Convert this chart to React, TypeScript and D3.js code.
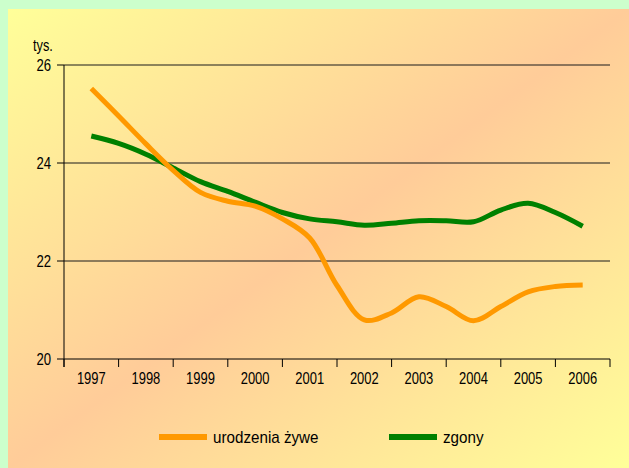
import React from 'react';
import * as d3 from 'd3';

// years on the category axis
const years = ['1997', '1998', '1999', '2000', '2001', '2002', '2003', '2004', '2005', '2006'];
// half-year sampling points of both series
const timePoints = [1997, 1997.5, 1998, 1998.5, 1999, 1999.5, 2000, 2000.5, 2001, 2001.5, 2002, 2002.5, 2003, 2003.5, 2004, 2004.5, 2005, 2005.5, 2006];
const urodzenia = [25.52, 24.96, 24.39, 23.85, 23.4, 23.22, 23.12, 22.86, 22.47, 21.5, 20.8, 20.94, 21.27, 21.07, 20.78, 21.07, 21.37, 21.48, 21.51];
const zgony = [24.55, 24.4, 24.18, 23.9, 23.62, 23.42, 23.2, 22.99, 22.86, 22.8, 22.73, 22.77, 22.82, 22.82, 22.8, 23.04, 23.18, 22.99, 22.71];
const yTicks = [20, 22, 24, 26];
const gridTicks = [22, 24, 26];

const W = 629;
const H = 468;
const left = 64;
const right = 610;
const top = 65;
const bottom = 359;

const App = () => {
  const band = d3.scaleBand<string>().domain(years).range([left, right]);
  const x = d3.scaleLinear().domain([1996.5, 2006.5]).range([left, right]);
  const y = d3.scaleLinear().domain([20, 26]).range([bottom, top]);

  const line = d3.line<number>()
    .x((_, i) => x(timePoints[i]))
    .y(d => y(d))
    .curve(d3.curveCatmullRom.alpha(0.5));

  // band edges for the x tick marks
  const edges = years.map(yr => band(yr) as number).concat([right]);

  const font = '"Liberation Sans", Arial, sans-serif';

  return (
    <svg width={W} height={H} style={{ position: 'absolute', left: 0, top: 0 }}>
      <defs>
        <linearGradient id="bg" x1="0" y1="0" x2="1" y2="1">
          <stop offset="0" stopColor="#FFFF99" />
          <stop offset="0.5" stopColor="#FFCC99" />
          <stop offset="1" stopColor="#FFFF99" />
        </linearGradient>
      </defs>
      <rect x={0} y={0} width={W} height={H} fill="#CCFFCC" />
      <rect x={8} y={9} width={W - 8} height={H - 9} fill="url(#bg)" />

      {/* gridlines */}
      {gridTicks.map(t => (
        <line key={'g' + t} x1={left} x2={right} y1={y(t)} y2={y(t)} stroke="#1a1a1a" strokeWidth={1} />
      ))}

      {/* axes */}
      <line x1={left} x2={left} y1={top} y2={bottom + 8} stroke="#000" strokeWidth={1} />
      <line x1={left} x2={right} y1={bottom} y2={bottom} stroke="#000" strokeWidth={1} />
      {yTicks.map(t => (
        <g key={'y' + t}>
          <line x1={left - 7} x2={left} y1={y(t)} y2={y(t)} stroke="#000" />
          <text
            transform={`translate(${left - 13},${y(t) + 5.5}) scale(0.82,1)`}
            textAnchor="end"
            fontFamily={font}
            fontSize={16}
            fill="#000"
          >
            {t}
          </text>
        </g>
      ))}
      <text transform={`translate(33,51) scale(0.8,1)`} fontFamily={font} fontSize={16} fill="#000">tys.</text>

      {edges.map((e, i) => (
        <line key={'xt' + i} x1={e} x2={e} y1={bottom} y2={bottom + 8} stroke="#000" />
      ))}
      {years.map(yr => (
        <text
          key={yr}
          transform={`translate(${(band(yr) as number) + band.bandwidth() / 2},${bottom + 25}) scale(0.81,1)`}
          textAnchor="middle"
          fontFamily={font}
          fontSize={16}
          fill="#000"
        >
          {yr}
        </text>
      ))}

      {/* series */}
      <path d={line(zgony) || ''} fill="none" stroke="#008000" strokeWidth={5} />
      <path d={line(urodzenia) || ''} fill="none" stroke="#FF9900" strokeWidth={5} />

      {/* legend */}
      <line x1={159} x2={207} y1={437} y2={437} stroke="#FF9900" strokeWidth={6} />
      <text transform="translate(213,443) scale(0.95,1)" fontFamily={font} fontSize={16} fill="#000">urodzenia żywe</text>
      <line x1={389} x2={437} y1={437} y2={437} stroke="#008000" strokeWidth={6} />
      <text transform="translate(443,443) scale(0.95,1)" fontFamily={font} fontSize={16} fill="#000">zgony</text>
    </svg>
  );
};

export default App;
